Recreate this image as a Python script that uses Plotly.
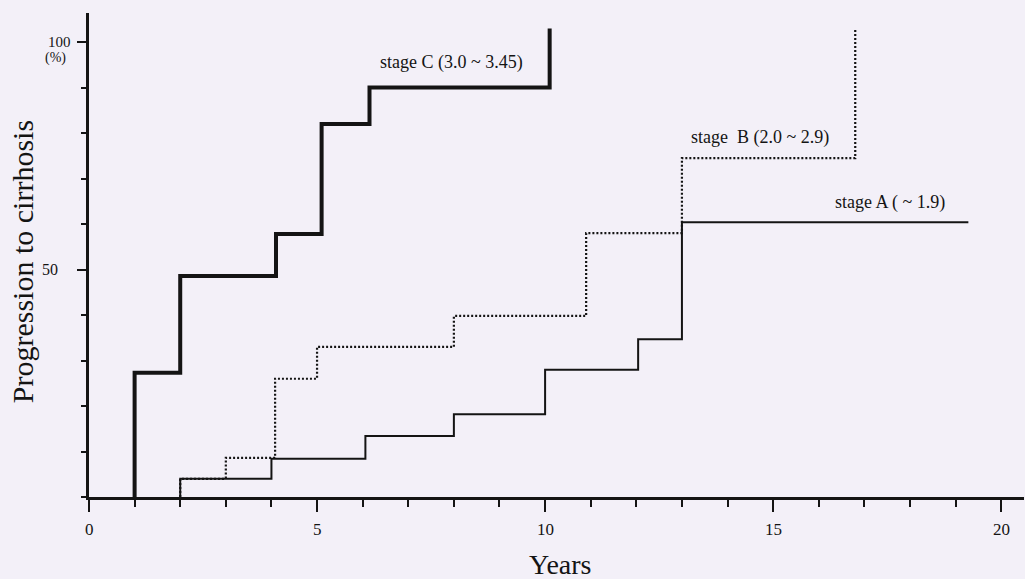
import plotly.graph_objects as go

# ---- data (years, % progressed) ----
stageC_t = [1.0, 2.0, 4.1, 5.1, 6.15, 10.1]
stageC_v = [27.3, 48.6, 57.8, 82.0, 90.0, 103.0]
stageC_end = 10.1

stageB_t = [2.0, 3.0, 4.08, 5.0, 8.0, 10.9, 13.0, 16.8]
stageB_v = [4.0, 8.6, 26.0, 33.0, 39.8, 58.0, 74.5, 103.0]
stageB_end = 16.8

stageA_t = [2.0, 4.0, 6.06, 8.0, 10.0, 12.04, 13.0]
stageA_v = [4.0, 8.4, 13.4, 18.2, 28.0, 34.7, 60.4]
stageA_end = 19.28

x_tick_labels = ["0", "5", "10", "15", "20"]
x_tick_vals = [0, 5, 10, 15, 20]

labels = ["stage C (3.0 ~ 3.45)", "stage  B (2.0 ~ 2.9)", "stage A ( ~ 1.9)"]


def steps(ts, vs, end):
    xs, ys = [ts[0]], [0.0]
    for i, (t, v) in enumerate(zip(ts, vs)):
        xs.append(t)
        ys.append(v)
        nxt = ts[i + 1] if i + 1 < len(ts) else end
        xs.append(nxt)
        ys.append(v)
    return xs, ys


BG = "#f3f0f8"
INK = "#141414"
SERIF = "Liberation Serif, Times New Roman, serif"

fig = go.Figure()
for ts, vs, end, w, dash in [
    (stageA_t, stageA_v, stageA_end, 2.0, "solid"),
    (stageB_t, stageB_v, stageB_end, 2.2, "2px,2px"),
    (stageC_t, stageC_v, stageC_end, 4.0, "solid"),
]:
    xs, ys = steps(ts, vs, end)
    fig.add_trace(go.Scatter(x=xs, y=ys, mode="lines",
                             line=dict(color=INK, width=w, dash=dash),
                             showlegend=False, hoverinfo="skip", cliponaxis=False))

ann = []
for v, t in zip(x_tick_vals, x_tick_labels):
    ann.append(dict(x=v, y=-0.068, xref="x", yref="paper", text=t, showarrow=False,
                    xanchor="center", yanchor="middle",
                    font=dict(family=SERIF, size=17, color=INK)))
# y labels
ann.append(dict(x=-0.0175, y=100, xref="paper", yref="y", text="100", showarrow=False,
                xanchor="right", yanchor="middle", font=dict(family=SERIF, size=15, color=INK)))
ann.append(dict(x=-0.036, y=96.4, xref="paper", yref="y", text="(%)", showarrow=False,
                xanchor="center", yanchor="middle", font=dict(family=SERIF, size=14, color=INK)))
ann.append(dict(x=-0.031, y=50, xref="paper", yref="y", text="50", showarrow=False,
                xanchor="right", yanchor="middle", font=dict(family=SERIF, size=16, color=INK)))
# axis titles
ann.append(dict(x=-0.0717, y=0.487, xref="paper", yref="paper", text="Progression to cirrhosis",
                textangle=-90, showarrow=False, xanchor="center", yanchor="middle",
                font=dict(family=SERIF, size=30, color=INK)))
ann.append(dict(x=0.504, y=-0.14, xref="paper", yref="paper", text="Years",
                showarrow=False, xanchor="center", yanchor="middle",
                font=dict(family=SERIF, size=28, color=INK)))
# stage labels
for (lx, ly), txt in zip([(7.94, 95.6), (14.72, 79.1), (17.57, 64.8)], labels):
    ann.append(dict(x=lx, y=ly, xref="x", yref="y", text=txt, showarrow=False,
                    xanchor="center", yanchor="middle",
                    font=dict(family=SERIF, size=18, color=INK)))

fig.update_layout(
    width=1025, height=579,
    margin=dict(l=89, r=1, t=13, b=82),
    paper_bgcolor=BG, plot_bgcolor=BG,
    annotations=ann,
    xaxis=dict(range=[0, 20.5], showgrid=False, zeroline=False,
               showline=True, linecolor=INK, linewidth=3,
               tickmode="array", tickvals=x_tick_vals, ticks="outside",
               ticklen=12, tickwidth=2, tickcolor=INK, showticklabels=False,
               minor=dict(dtick=1, ticks="outside", ticklen=7, tickwidth=1.5, tickcolor=INK)),
    yaxis=dict(range=[0, 106.4], showgrid=False, zeroline=False,
               showline=True, linecolor=INK, linewidth=3,
               tickmode="array", tickvals=[50, 100], ticks="outside",
               ticklen=9, tickwidth=1.5, tickcolor=INK, showticklabels=False,
               minor=dict(dtick=10, ticks="outside", ticklen=5, tickwidth=1.5, tickcolor=INK)),
)

fig.write_html("out.html")
